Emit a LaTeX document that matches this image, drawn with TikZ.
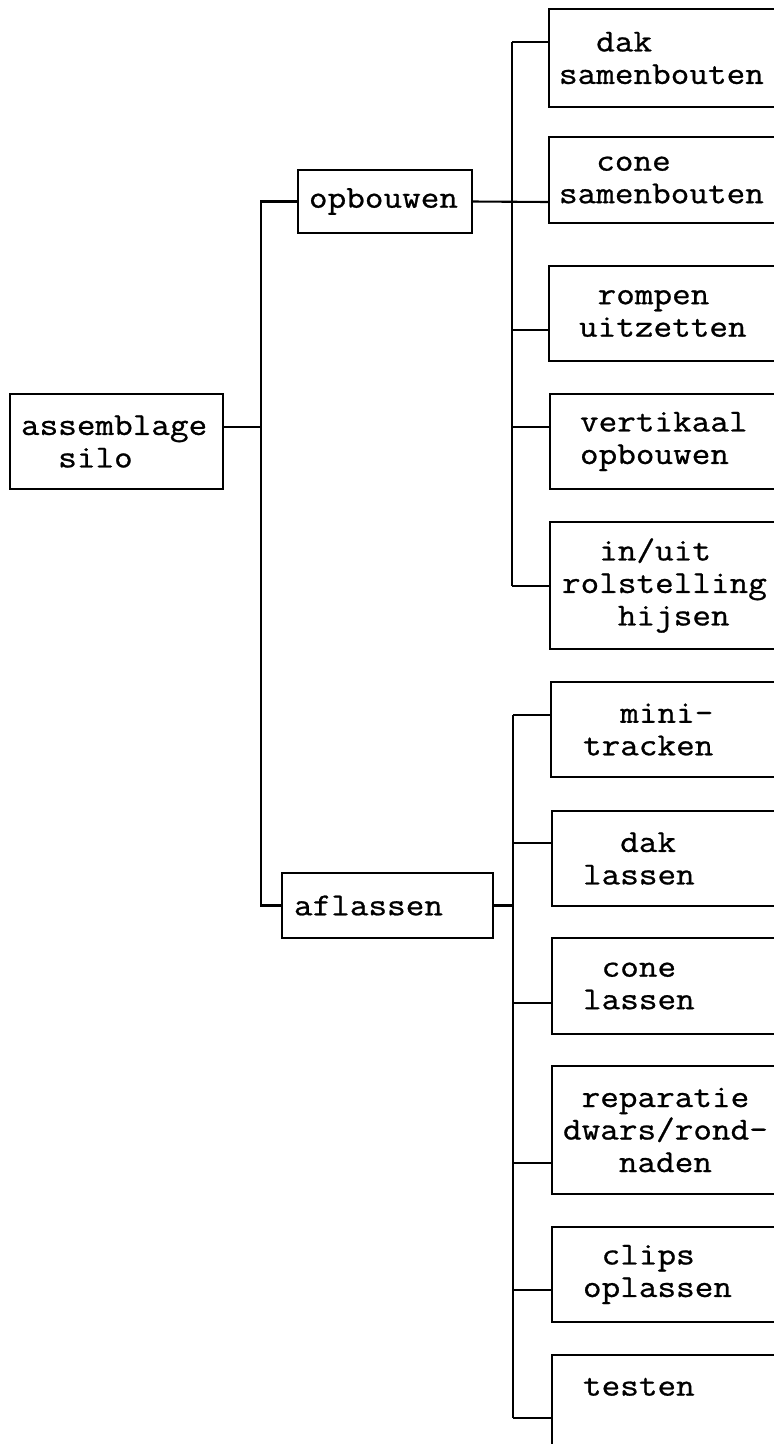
\documentclass[tikz,border=0pt]{standalone}
\usepackage{fontspec}
\newfontfamily\boxfont{Latin Modern Mono}[FakeBold=0.8, FakeStretch=1.13]
% indent a line by a number of typewriter characters
\newcommand\indentby[1]{\hspace*{#1\fontcharwd\font`\x}}
\tikzset{
  box/.style={draw, rectangle, line width=2.3pt, anchor=north west,
    inner ysep=0pt, outer sep=0pt, align=left,
    font=\boxfont\fontsize{32pt}{32.5pt}\selectfont},
  wire/.style={line width=2.1pt}
}
\begin{document}
\begin{tikzpicture}[x=1pt, y=-1pt]
\useasboundingbox (0,0) rectangle (774,1444);
\clip (0,0) rectangle (774,1444);

% top level and the two main stages
\node[box, minimum width=213pt, minimum height=95pt, inner xsep=11pt, text width=191pt]
  (root) at (10,394) {assemblage\\\indentby{2}silo};
\node[box, minimum width=174pt, minimum height=63pt, inner xsep=11pt, text width=152pt]
  (opb) at (298,170) {opbouwen};
\node[box, minimum width=211pt, minimum height=65pt, inner xsep=12pt, text width=187pt]
  (afl) at (282,873) {aflassen};

% steps of opbouwen
\node[box, minimum width=241pt, minimum height=98pt, inner xsep=10pt, text width=221pt]
  (dakb) at (549,9) {\indentby{2}dak\\samenbouten};
\node[box, minimum width=241pt, minimum height=86pt, inner xsep=10pt, text width=221pt]
  (coneb) at (549,137) {\indentby{2}cone\\samenbouten};
\node[box, minimum width=241pt, minimum height=95pt, inner xsep=30pt, text width=181pt]
  (romp) at (549,266) {\indentby{1}rompen\\uitzetten};
\node[box, minimum width=240pt, minimum height=95pt, inner xsep=30pt, text width=180pt]
  (vert) at (550,394) {vertikaal\\opbouwen};
\node[box, minimum width=240pt, minimum height=127pt, inner xsep=12pt, text width=216pt]
  (rol) at (550,522) {\indentby{2}in/uit\\rolstelling\\\indentby{3}hijsen};

% steps of aflassen
\node[box, minimum width=239pt, minimum height=95pt, inner xsep=32pt, text width=175pt]
  (mini) at (551,682) {\indentby{2}mini-\\tracken};
\node[box, minimum width=238pt, minimum height=95pt, inner xsep=31pt, text width=176pt]
  (dakl) at (552,811) {\indentby{2}dak\\lassen};
\node[box, minimum width=238pt, minimum height=96pt, inner xsep=31pt, text width=176pt]
  (conel) at (552,938) {\indentby{1}cone\\lassen};
\node[box, minimum width=238pt, minimum height=128pt, inner xsep=11pt, text width=216pt]
  (rep) at (552,1066) {\indentby{1}reparatie\\dwars/rond-\\\indentby{3}naden};
\node[box, minimum width=238pt, minimum height=95pt, inner xsep=31pt, text width=176pt]
  (clips) at (552,1227) {\indentby{1}clips\\oplassen};
\node[box, minimum width=238pt, minimum height=96pt, inner xsep=31pt, text width=176pt]
  (test) at (552,1355) {testen\\\mbox{}};

% trunk from the top level
\coordinate (rj) at (261,427);
\draw[wire] (root.east |- rj) -- (rj);
\draw[wire] (opb.west) -| (rj);
\draw[wire] (afl.west) -| (rj);

% bus of opbouwen
\coordinate (u1) at (512,42);
\coordinate (u2) at (512,202);
\coordinate (u3) at (512,330);
\coordinate (u4) at (512,427);
\coordinate (u5) at (512,586);
\draw[wire] (u1) -- (u5);
\draw[wire] (opb.east) -- (coneb.west |- u2);
\draw[wire] (u1) -- (dakb.west |- u1);
\draw[wire] (u3) -- (romp.west |- u3);
\draw[wire] (u4) -- (vert.west |- u4);
\draw[wire] (u5) -- (rol.west |- u5);

% bus of aflassen
\coordinate (l1) at (513,715);
\coordinate (l0) at (513,905.5);
\coordinate (l2) at (513,843);
\coordinate (l3) at (513,1003);
\coordinate (l4) at (513,1163);
\coordinate (l5) at (513,1290);
\coordinate (l6) at (513,1418);
\draw[wire] (l1) -- (l6);
\draw[wire] (afl.east) -- (l0);
\draw[wire] (l1) -- (mini.west |- l1);
\draw[wire] (l2) -- (dakl.west |- l2);
\draw[wire] (l3) -- (conel.west |- l3);
\draw[wire] (l4) -- (rep.west |- l4);
\draw[wire] (l5) -- (clips.west |- l5);
\draw[wire] (l6) -- (test.west |- l6);
\end{tikzpicture}
\end{document}
